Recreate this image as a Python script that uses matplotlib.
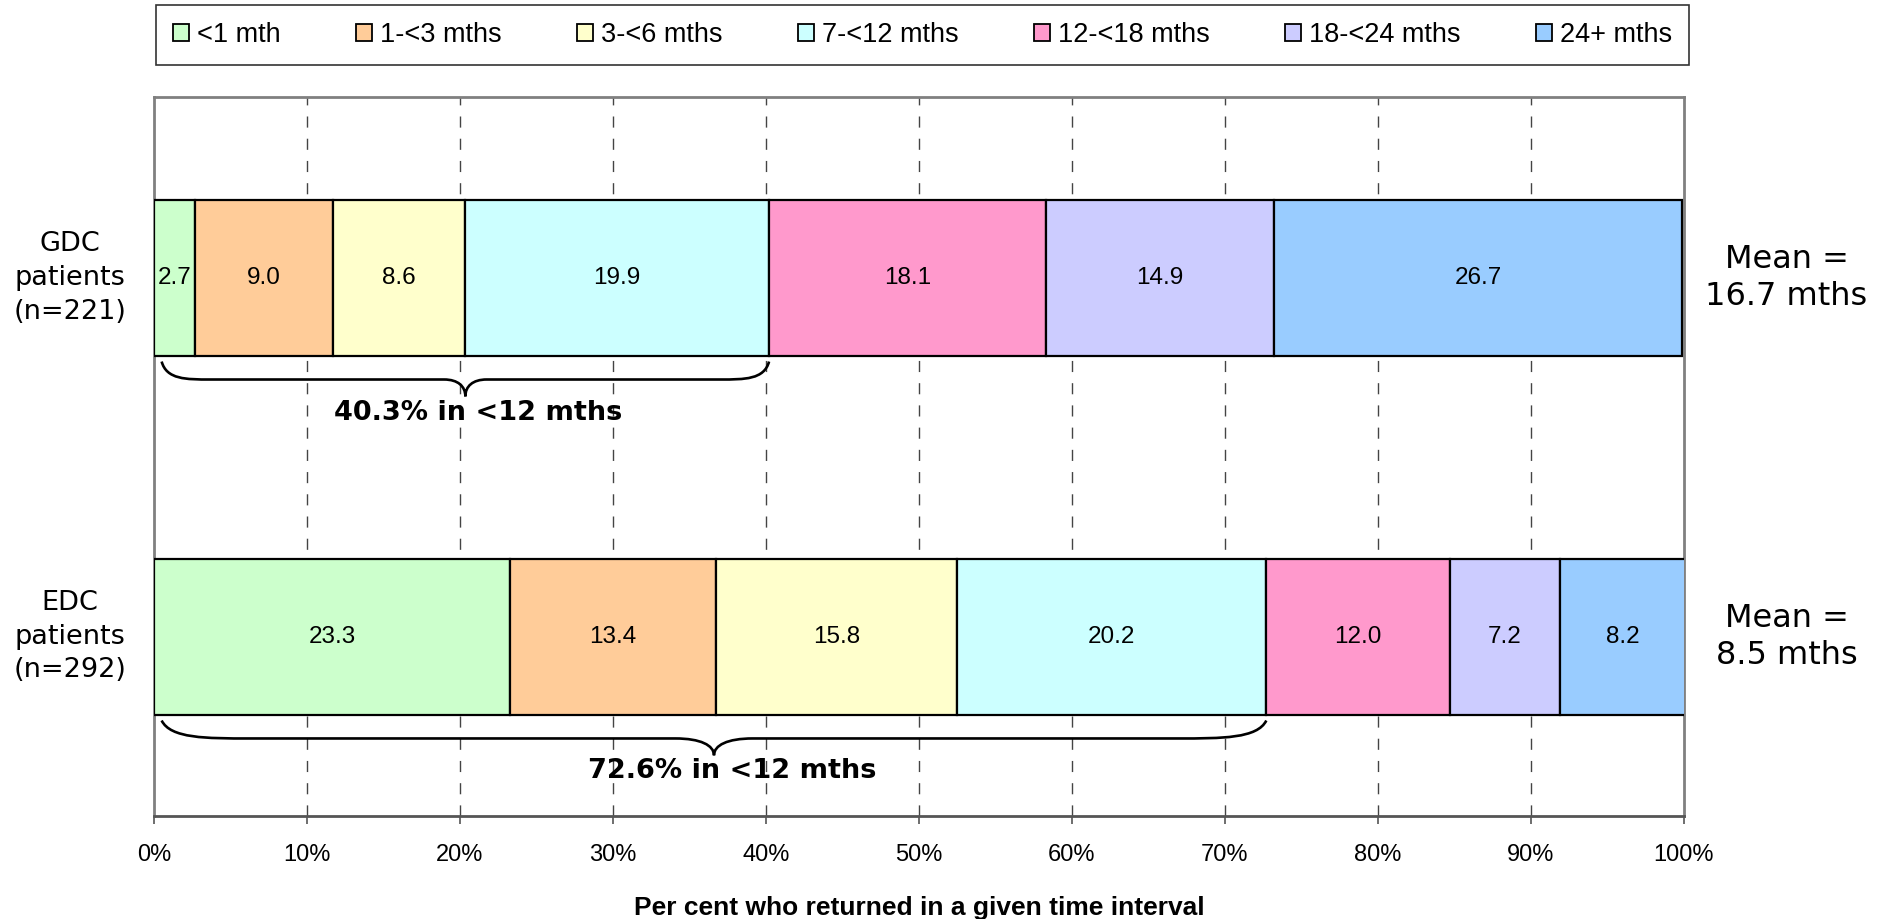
import numpy as np
import matplotlib
matplotlib.use("Agg")
import matplotlib.pyplot as plt
from matplotlib.path import Path
from matplotlib.patches import PathPatch, Patch

# data
intervals = ["<1 mth", "1-<3 mths", "3-<6 mths", "7-<12 mths", "12-<18 mths", "18-<24 mths", "24+ mths"]
gdc = [2.7, 9.0, 8.6, 19.9, 18.1, 14.9, 26.7]
edc = [23.3, 13.4, 15.8, 20.2, 12.0, 7.2, 8.2]
group_labels = ["GDC\npatients\n(n=221)", "EDC\npatients\n(n=292)"]
mean_labels = ["Mean =\n16.7 mths", "Mean =\n8.5 mths"]
brace_labels = ["40.3% in <12 mths", "72.6% in <12 mths"]
brace_text_x = [21.2, 37.8]
ticks = [0, 10, 20, 30, 40, 50, 60, 70, 80, 90, 100]
tick_labels = ["%d%%" % t for t in ticks]
colors = ["#CCFFCC", "#FFCC99", "#FFFFCC", "#CCFFFF", "#FF99CC", "#CCCCFF", "#99CCFF"]

fig = plt.figure(figsize=(18.81, 9.19), dpi=100)
ax = fig.add_axes([154/1881, 1-816/919, (1684-154)/1881, (816-97)/919])

rows = [gdc, edc]
ypos = [0, 1]
bh = 0.435
for y, vals in zip(ypos, rows):
    left = 0
    for v, c in zip(vals, colors):
        ax.barh(y, v, left=left, height=bh, color=c, edgecolor="black", linewidth=1.6, zorder=3)
        ax.text(left + v/2, y, "%.1f" % v, ha="center", va="center", fontsize=17.5,
                family="Liberation Sans", zorder=4)
        left += v

# curly braces under the first four segments
def brace(x0, x1, yb):
    span = x1 - x0
    cw = 0.08 * span
    cw2 = 0.035 * span
    ye, yl, yt = yb + 0.233, yb + 0.283, yb + 0.33
    xm = (x0 + x1) / 2
    verts = [
        (x0, ye), (x0 + cw*0.1, yl), (x0 + cw*0.5, yl), (x0 + cw, yl),
        (xm - cw2, yl),
        (xm - cw2*0.35, yl), (xm, yl + 0.4*(yt-yl)), (xm, yt),
        (xm, yl + 0.4*(yt-yl)), (xm + cw2*0.35, yl), (xm + cw2, yl),
        (x1 - cw, yl),
        (x1 - cw*0.5, yl), (x1 - cw*0.1, yl), (x1, ye),
    ]
    codes = [Path.MOVETO, Path.CURVE4, Path.CURVE4, Path.CURVE4, Path.LINETO,
             Path.CURVE4, Path.CURVE4, Path.CURVE4,
             Path.CURVE4, Path.CURVE4, Path.CURVE4, Path.LINETO,
             Path.CURVE4, Path.CURVE4, Path.CURVE4]
    ax.add_patch(PathPatch(Path(verts, codes), fill=False, lw=1.9, edgecolor="black", zorder=4))

for i, (y, vals) in enumerate(zip(ypos, rows)):
    brace(0.5, sum(vals[:4]), y)
    ax.text(brace_text_x[i], y + 0.375, brace_labels[i], ha="center", va="center",
            fontsize=19.5, fontweight="bold", family="DejaVu Sans", zorder=5)
    ax.text(-5.5, y, group_labels[i], ha="center", va="center", fontsize=19.5,
            family="DejaVu Sans", linespacing=1.38, clip_on=False)
    ax.text(106.7, y, mean_labels[i], ha="center", va="center", fontsize=23,
            family="DejaVu Sans", linespacing=1.25, clip_on=False)

ax.set_xlim(0, 100)
ax.set_ylim(1.499, -0.504)
ax.set_yticks([])
ax.set_xticks(ticks)
ax.set_xticklabels(tick_labels, fontsize=17, family="Liberation Sans")
ax.tick_params(axis="x", direction="out", length=6, width=1.2, color="#555555", pad=14)
for t in ticks[1:-1]:
    ax.axvline(t, color="#444444", lw=1, ls=(0, (8, 8)), zorder=1)
for s in ["top", "left", "right"]:
    ax.spines[s].set_color("#808080")
    ax.spines[s].set_linewidth(2)
ax.spines["bottom"].set_color("#555555")
ax.spines["bottom"].set_linewidth(2)
ax.set_xlabel("Per cent who returned in a given time interval", fontsize=19,
              fontweight="bold", family="Liberation Sans", labelpad=22)

handles = [Patch(facecolor=c, edgecolor="black", linewidth=1.3) for c in colors]
leg = fig.legend(handles, intervals, ncol=7, mode="expand", loc="center",
                 bbox_to_anchor=(156/1881, 1-64/919, (1689-156)/1881, 58/919),
                 prop={"family": "Liberation Sans", "size": 19.5},
                 handlelength=0.6, handleheight=0.6, handletextpad=0.3,
                 borderpad=0.62, borderaxespad=0, fancybox=False, frameon=True)
leg.get_frame().set_edgecolor("black")
leg.get_frame().set_linewidth(1.2)

fig.savefig("out.png", dpi=100)
